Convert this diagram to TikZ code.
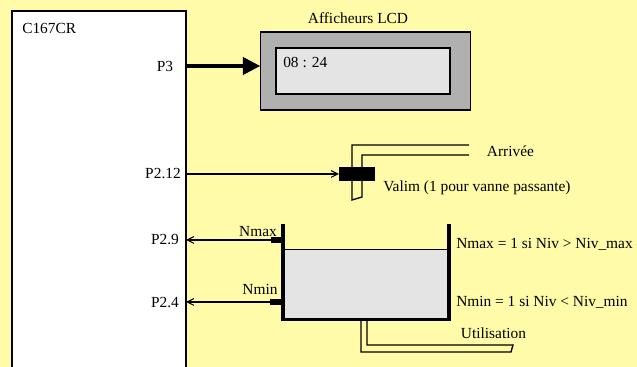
\documentclass[tikz,border=0pt]{standalone}
\usepackage{xcolor}
\usepackage{fontspec}
\setmainfont{Liberation Serif}
\usetikzlibrary{arrows.meta,positioning,calc}
\definecolor{fond}{HTML}{FFFBA8}
\definecolor{cuve}{HTML}{E4E4E4}
\definecolor{cadre}{HTML}{B0B0B0}
\begin{document}
\begin{tikzpicture}[x=0.75pt,y=-0.75pt,
  txt/.style={font=\fontsize{11.55pt}{13pt}\selectfont, inner sep=0pt, text=black},
  boite/.style={draw=black, inner sep=0pt, outer sep=0pt},
  capteur/.style={fill=black, inner sep=0pt, outer sep=0pt, minimum width=9.5pt, minimum height=3.8pt},
  fil/.style={-{Straight Barb[length=5pt,width=5pt]}, line width=0.8pt},
  bus/.style={-{Triangle[length=13pt,width=13pt]}, line width=2.4pt},
  tuyau/.style={line width=1pt, line join=miter},
  paroi/.style={line width=2.4pt, line cap=butt}]
  \useasboundingbox (0,0) rectangle (637,367);
  \fill[fond] (0,0) rectangle (637,367);
  \clip (0,0) rectangle (637,367);
  % microcontroleur
  \node[boite, fill=white, line width=2.2pt, minimum width=130.5pt, minimum height=300pt, anchor=north west] (chip) at (12,11) {};
  \node[txt, anchor=west] (nom) at (22,28) {C167CR};
  \node[txt] (P3) at (165,66) {P3};
  \node[txt] (P212) at (163,174) {P2.12};
  \node[txt] (P29) at (165,240) {P2.9};
  \node[txt] (P24) at (165,303) {P2.4};
  % afficheur
  \node[boite, fill=cadre, line width=0.8pt, minimum width=158pt, minimum height=58.5pt] (lcd) at (365.5,71) {};
  \node[boite, fill=cuve, line width=0.8pt, minimum width=130.5pt, minimum height=34.5pt] (ecran) at (363,71) {};
  \node[txt] (titre) at (358,18.5) {Afficheurs LCD};
  \node[txt, anchor=west] (heure) at (283,62) {08 : 24};
  % vanne
  \draw[tuyau] (469,145) -- (352,145) -- (352,200) -- (362,197) -- (362,155) -- (469,155);
  \node[fill=black, inner sep=0pt, outer sep=0pt, minimum width=27pt, minimum height=10pt] (vanne) at (357,174) {};
  \node[txt] (arrivee) at (510.5,151) {Arrivée};
  \node[txt, anchor=west] (valim) at (383,187.5) {Valim (1 pour vanne passante)};
  % cuve
  \node[draw=black, line width=0.8pt, fill=cuve, inner sep=0pt, outer sep=0pt, minimum width=124pt, minimum height=52pt] (eau) at (366,284.5) {};
  \draw[tuyau] (361,319) -- (361,352) -- (511,352) -- (513,345) -- (367,345) -- (367,319);
  \draw[paroi] (283,224) -- (283,319.5) -- (449,319.5) -- (449,224);
  \node[capteur] (smax) at (277,240) {};
  \node[capteur] (smin) at (276.5,302) {};
  \node[txt] (nmax) at (258,231.5) {Nmax};
  \node[txt] (nmin) at (260,289.5) {Nmin};
  \node[txt, anchor=west] (emax) at (456,244) {Nmax = 1 si Niv > Niv\_max};
  \node[txt, anchor=west] (emin) at (456,302.5) {Nmin = 1 si Niv < Niv\_min};
  \node[txt] (util) at (493.5,333) {Utilisation};
  % liaisons
  \draw[bus] (chip.east |- P3) -- (lcd.west |- P3);
  \draw[fil] (chip.east |- vanne) -- (vanne.west);
  \draw[fil] (smax.west) -- (chip.east |- smax);
  \draw[fil] (smin.west) -- (chip.east |- smin);
\end{tikzpicture}
\end{document}
